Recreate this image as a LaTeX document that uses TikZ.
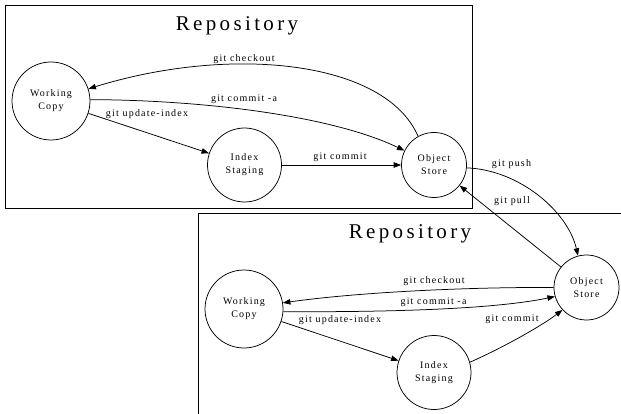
\documentclass[tikz,border=0pt]{standalone}
\usepackage{fontspec}
\setmainfont{Liberation Serif}
\newfontfamily\lblfont[LetterSpace=12]{Liberation Serif}
\newfontfamily\titlefont[LetterSpace=16]{Liberation Serif}
\usetikzlibrary{arrows.meta}

\begin{document}
\begin{tikzpicture}[x=1pt,y=-1pt,
  state/.style={draw, circle, line width=0.75pt, inner sep=0pt, align=center,
    font=\lblfont\fontsize{10}{13}\selectfont},
  wcnode/.style={state, minimum size=78pt},
  isnode/.style={state, minimum size=74pt},
  osnode/.style={state, minimum size=65pt},
  flow/.style={line width=0.75pt, -{Triangle[length=7.5pt,width=5.5pt]}},
  lbl/.style={inner sep=0pt, font=\lblfont\fontsize{10}{12}\selectfont},
  title/.style={inner sep=0pt, anchor=base, font=\titlefont\fontsize{21}{25}\selectfont},
  frame/.style={line width=0.75pt}]
\useasboundingbox (0,0) rectangle (621,414);

% lower repository frame (runs off the page to the right and bottom)
\draw[frame] (621,213) -- (198,213) -- (198,414);
% upper repository frame
\draw[frame] (5,5) rectangle (472,208);

\node[title] (t1) at (237,31) {Repository};
\node[title] (t2) at (410,238) {Repository};

% upper repository
\node[wcnode] (wc1) at (51,101) {Working\\Copy};
\node[isnode] (is1) at (244.5,165) {Index\\Staging};
\node[osnode] (os1) at (434,165) {Object\\Store};

% lower repository
\node[wcnode] (wc2) at (244,309) {Working\\Copy};
\node[isnode] (is2) at (434,372.5) {Index\\Staging};
\node[osnode] (os2) at (586.5,287.5) {Object\\Store};

% upper connectors
\draw[flow] (os1.119) .. controls (385,60) and (230,45) .. (wc1.18);
\draw[flow] (wc1.2) .. controls (200,100) and (330,115) .. (os1.154);
\draw[flow] (wc1) -- (is1);
\draw[flow] (is1) -- (os1);

% between the repositories
\draw[flow] (os1.-5) .. controls (520,170) and (568,212) .. (os2.105);
\draw[flow] (os2) -- (os1);

% lower connectors
\draw[flow] (os2.180) .. controls (470,287) and (360,292) .. (wc2.9);
\draw[flow] (wc2.-4) .. controls (380,312) and (490,310) .. (os2.196);
\draw[flow] (wc2) -- (is2);
\draw[flow] (is2.16) .. controls (500,349) and (540,327) .. (os2.223);

% labels
\node[lbl] (l1) at (244,59) {git checkout};
\node[lbl] (l2) at (244,99.5) {git commit -a};
\node[lbl] (l3) at (147,114) {git update-index};
\node[lbl] (l4) at (340,157) {git commit};
\node[lbl] (l5) at (511.5,164) {git push};
\node[lbl] (l6) at (512,201.5) {git pull};
\node[lbl] (l7) at (434,281.5) {git checkout};
\node[lbl] (l8) at (433.5,302.5) {git commit -a};
\node[lbl] (l9) at (340,320) {git update-index};
\node[lbl] (l10) at (512,319.5) {git commit};
\end{tikzpicture}
\end{document}
